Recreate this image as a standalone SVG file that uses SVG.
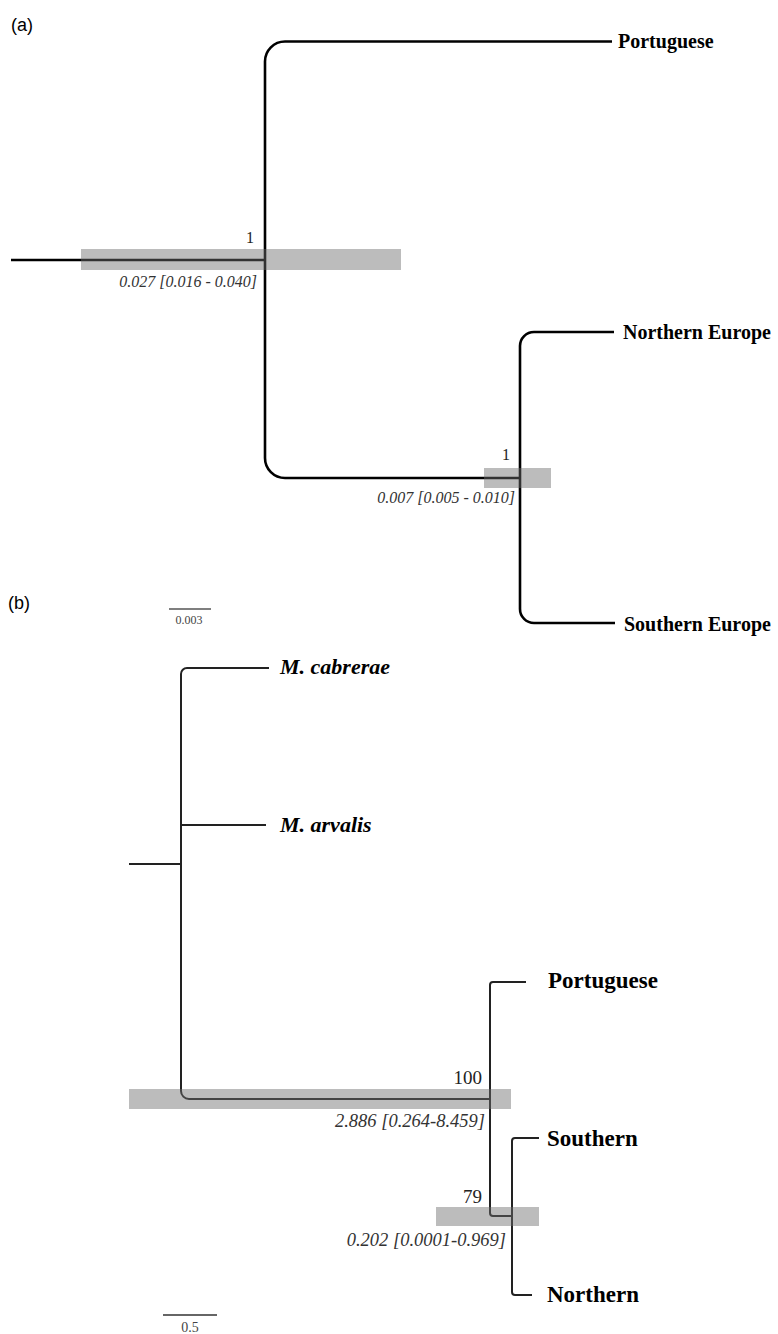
<svg xmlns="http://www.w3.org/2000/svg" width="778" height="1334" viewBox="0 0 778 1334">
<style>
.bra{fill:none;stroke:#000;stroke-width:2.6;stroke-linecap:butt}
.brb{fill:none;stroke:#222;stroke-width:2;stroke-linecap:butt}
.bar{fill:#6e6e6e;fill-opacity:0.46}
.tipa{font-family:"Liberation Serif",serif;font-weight:bold;font-size:20px;fill:#000}
.tipb{font-family:"Liberation Serif",serif;font-weight:bold;font-size:23px;fill:#000}
.tipbi{font-family:"Liberation Serif",serif;font-weight:bold;font-style:italic;font-size:22px;fill:#000}
.sup{font-family:"Liberation Serif",serif;font-size:16px;fill:#222;text-anchor:end}
.supb{font-family:"Liberation Serif",serif;font-size:19px;fill:#222;text-anchor:end}
.age{font-family:"Liberation Serif",serif;font-style:italic;font-size:16px;fill:#333;text-anchor:end}
.ageb{font-family:"Liberation Serif",serif;font-style:italic;font-size:18.5px;fill:#333;text-anchor:end}
.panel{font-family:"Liberation Sans",Arial,sans-serif;font-size:18px;fill:#000}
.scl{font-family:"Liberation Serif",serif;fill:#444;text-anchor:middle}
</style>
<rect width="778" height="1334" fill="#fff"/>
<text class="panel" x="11" y="31">(a)</text>
<text class="panel" x="8" y="609">(b)</text>
<g id="connectors">
  <path class="bra" d="M11,260 H265"/>
  <path class="bra" d="M265,260 V61.5 A20,20 0 0 1 285,41.5 H612"/>
  <path class="bra" d="M265,260 V458 A20,20 0 0 0 285,478 H520"/>
  <path class="bra" d="M520,478 V346 A14,14 0 0 1 534,332 H614"/>
  <path class="bra" d="M520,478 V609 A14,14 0 0 0 534,623 H615"/>
  <path class="brb" d="M129,864 H181"/>
  <path class="brb" d="M181,864 V674 A6,6 0 0 1 187,668 H269"/>
  <path class="brb" d="M181,825 H266"/>
  <path class="brb" d="M181,864 V1091 A8,8 0 0 0 189,1099 H490"/>
  <path class="brb" d="M490,1099 V985 A3,3 0 0 1 493,982 H526"/>
  <path class="brb" d="M490,1099 V1213 A3,3 0 0 0 493,1216 H512"/>
  <path class="brb" d="M512,1216 V1141 A3,3 0 0 1 515,1138 H539"/>
  <path class="brb" d="M512,1216 V1292 A3,3 0 0 0 515,1295 H532"/>
</g>
<g id="a-node-root">
  <rect class="bar" x="81" y="249" width="320" height="21"/>
  <text class="sup" x="254" y="243">1</text>
  <text class="age" x="257" y="287">0.027 [0.016 - 0.040]</text>
</g>
<g id="a-node-europe">
  <rect class="bar" x="484" y="468" width="67" height="20"/>
  <text class="sup" x="510" y="460">1</text>
  <text class="age" x="515" y="503">0.007 [0.005 - 0.010]</text>
</g>
<g id="a-tip-portuguese"><text class="tipa" x="618" y="48">Portuguese</text></g>
<g id="a-tip-northern"><text class="tipa" x="623" y="339">Northern Europe</text></g>
<g id="a-tip-southern"><text class="tipa" x="624" y="631">Southern Europe</text></g>
<g id="a-scale">
  <line x1="169" y1="609" x2="211" y2="609" stroke="#555" stroke-width="1.5"/>
  <text class="scl" x="189" y="624" font-size="12">0.003</text>
</g>
<g id="b-node-100">
  <rect class="bar" x="129" y="1089" width="382" height="20"/>
  <text class="supb" x="482" y="1084">100</text>
  <text class="ageb" x="485" y="1127">2.886 [0.264-8.459]</text>
</g>
<g id="b-node-79">
  <rect class="bar" x="436" y="1207" width="103" height="19"/>
  <text class="supb" x="482" y="1203">79</text>
  <text class="ageb" x="506" y="1246">0.202 [0.0001-0.969]</text>
</g>
<g id="b-tip-cabrerae"><text class="tipbi" x="280" y="674">M. cabrerae</text></g>
<g id="b-tip-arvalis"><text class="tipbi" x="280" y="832">M. arvalis</text></g>
<g id="b-tip-portuguese"><text class="tipb" x="548" y="988">Portuguese</text></g>
<g id="b-tip-southern"><text class="tipb" x="547" y="1146">Southern</text></g>
<g id="b-tip-northern"><text class="tipb" x="547" y="1302">Northern</text></g>
<g id="b-scale">
  <line x1="163" y1="1315" x2="217" y2="1315" stroke="#333" stroke-width="1.5"/>
  <text class="scl" x="190" y="1332" font-size="14">0.5</text>
</g>
</svg>
